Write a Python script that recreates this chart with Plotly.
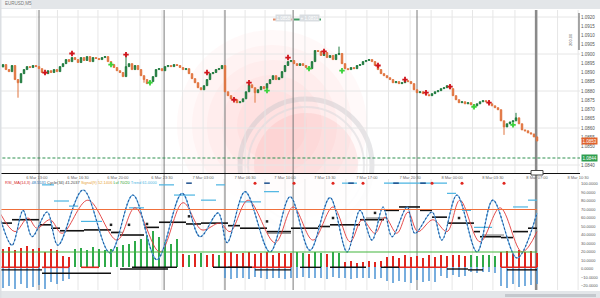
import plotly.graph_objects as go

W, H = 600, 298

# ---------------- price pane data (EURUSD) ----------------
closes = [
    1.08943, 1.08916, 1.08905, 1.08938, 1.08862, 1.08845, 1.08894, 1.08916, 1.08932, 1.08927,
    1.08938, 1.08932, 1.08921, 1.08900, 1.08894, 1.08910, 1.08900, 1.08916, 1.08905, 1.08932,
    1.08948, 1.08970, 1.08959, 1.08981, 1.08970, 1.08954, 1.08981, 1.08965, 1.08986, 1.08959,
    1.08981, 1.08976, 1.08970, 1.08981, 1.08986, 1.08959, 1.08943, 1.08927, 1.08910, 1.08900,
    1.08878, 1.08932, 1.08948, 1.08916, 1.08938, 1.08916, 1.08883, 1.08862, 1.08840, 1.08851,
    1.08878, 1.08916, 1.08921, 1.08910, 1.08932, 1.08938, 1.08932, 1.08943, 1.08938, 1.08927,
    1.08916, 1.08921, 1.08894, 1.08867, 1.08845, 1.08818, 1.08807, 1.08829, 1.08862, 1.08894,
    1.08900, 1.08916, 1.08921, 1.08938, 1.08796, 1.08775, 1.08758, 1.08753, 1.08737, 1.08742,
    1.08758, 1.08796, 1.08834, 1.08818, 1.08791, 1.08807, 1.08824, 1.08813, 1.08840, 1.08862,
    1.08883, 1.08862, 1.08872, 1.08905, 1.08938, 1.08959, 1.08965, 1.08948, 1.08938, 1.08948,
    1.08938, 1.08927, 1.08921, 1.08959, 1.09019, 1.09014, 1.08992, 1.09008, 1.08981, 1.08992,
    1.08970, 1.08997, 1.09003, 1.08948, 1.08921, 1.08916, 1.08927, 1.08921, 1.08938, 1.08943,
    1.08959, 1.08965, 1.08970, 1.08959, 1.08938, 1.08916, 1.08894, 1.08883, 1.08872, 1.08862,
    1.08845, 1.08851, 1.08840, 1.08845, 1.08856, 1.08851, 1.08840, 1.08807, 1.08791, 1.08796,
    1.08786, 1.08780, 1.08775, 1.08786, 1.08796, 1.08802, 1.08813, 1.08818, 1.08829, 1.08813,
    1.08775, 1.08753, 1.08737, 1.08742, 1.08731, 1.08737, 1.08726, 1.08720, 1.08731, 1.08742,
    1.08748, 1.08742, 1.08731, 1.08720, 1.08710, 1.08699, 1.08639, 1.08606, 1.08623, 1.08633,
    1.08639, 1.08655, 1.08623, 1.08590, 1.08585, 1.08574, 1.08568, 1.08552, 1.08530,
]
first_open = 1.08930
long_wick_high = {41: 1.08997, 112: 1.09040, 171: 1.08682, 149: 1.08824}
long_wick_low = {5: 1.08764, 84: 1.08737, 167: 1.08563, 47: 1.08845}

fractal_up_idx = [14, 23, 41, 68, 77, 82, 95, 107, 125, 134, 141, 149, 162]
fractal_up_val = [1.08900, 1.09003, 1.08997, 1.08900, 1.08753, 1.08845, 1.08981,
                  1.09014, 1.08938, 1.08862, 1.08791, 1.08824, 1.08737]
fractal_dn_idx = [36, 49, 88, 102, 113, 157, 170]
fractal_dn_val = [1.08943, 1.08845, 1.08802, 1.08921, 1.08910, 1.08715, 1.08617]

stop_level = 1.08438
# 1.0845 sits under the green stop-level box in the reference, so it is not listed
price_ticks = [1.0840, 1.0850, 1.0855, 1.0860, 1.0865, 1.0870, 1.0875, 1.0880,
               1.0885, 1.0890, 1.0895, 1.0900, 1.0905, 1.0910, 1.0915, 1.0920]
price_grid = [1.0840, 1.0860, 1.0880, 1.0900, 1.0920]
time_tick_pos = [11.3, 25, 38.3, 53, 66.7, 80.7, 94, 107.3, 121.3, 135.7, 149.7, 163.3, 178, 191.7]
time_tick_txt = ["6 Mar 13:00", "6 Mar 16:30", "6 Mar 20:00", "6 Mar 23:30", "7 Mar 03:00",
                 "7 Mar 06:30", "7 Mar 10:00", "7 Mar 13:30", "7 Mar 17:00", "7 Mar 20:30",
                 "8 Mar 00:00", "8 Mar 03:30", "8 Mar 07:00", "8 Mar 10:30"]
separators = [12, 53.7, 74, 96.7, 138]
current_bar = 177.7

# ---------------- oscillator pane data ----------------
fast_x = [-1, 3, 6.7, 9.7, 14.7, 18.3, 26.7, 35.7, 43.3, 51.3, 59.7, 65.7, 71.7, 74.7, 80.7, 89,
          95.7, 102.3, 109, 114.7, 119, 123, 126.7, 129.7, 134.7, 137.3, 143, 146.3, 151.3, 158,
          163.3, 171.3, 178]
fast_v = [61, 28, 69, 38, 67, 28, 93, 19, 87, 11, 89, 38, 66, 31, 91, 20,
          85, 22, 84, 20, 69, 34, 73, 38, 73, 42, 67, 34, 87, 20,
          81, 13, 66]
slow_x = [-1, 4, 8.3, 11.3, 15.7, 19.7, 28.3, 38, 44, 52.3, 60, 66.3, 72.3, 75.7, 81.7, 90.7,
          96.7, 103.3, 110, 115.7, 119.7, 124, 127.3, 131.3, 135, 138.3, 143.3, 148, 152.3, 159,
          165.7, 173, 178]
slow_v = [66, 44, 60, 48, 58, 42, 81, 34, 72, 20, 78, 46, 54, 44, 81, 31,
          73, 34, 73, 32, 58, 42, 61, 42, 67, 44, 58, 44, 81, 32,
          72, 20, 44]
# step lines: (start, end, level)
trend_steps = [(-1, 3, 54), (3, 12, 58), (12, 16, 52), (16, 19, 48), (19, 27, 45), (27, 36, 46),
               (36, 39, 43), (39, 47, 40), (47, 52, 49), (52, 61, 55), (61, 66, 53), (66, 75, 54),
               (75, 79, 51), (79, 88, 48), (88, 96, 44), (96, 105, 48), (105, 109, 50),
               (109, 119, 52), (119, 127, 58), (127, 132, 69), (132, 139, 73), (139, 143, 69),
               (143, 148, 61), (148, 157, 54), (157, 159, 44), (159, 166, 38), (166, 170, 37),
               (170, 175, 44), (175, 178, 48)]
gray_steps = [(36, 40, 43), (88, 96, 42), (121, 128, 60), (160, 167, 40)]
cyan_steps = [(13, 17, 99), (17, 22, 80), (22, 25, 74), (26, 33, 56), (42, 47, 72), (52, 57, 99),
              (57, 64, 87), (66, 71, 81), (71, 74, 99), (79, 86, 79), (87, 92, 91),
              (113, 118, 101), (127, 148, 101), (148, 151, 89), (153, 156, 69), (157, 163, 49),
              (170, 175, 73), (175, 178, 81)]
trend_dot_idx = [36, 42, 48, 62, 88, 110, 124, 152]
trend_dot_val = [52, 52, 53, 62, 56, 60, 66, 60]
signal_red_idx = [84, 97, 110, 120, 143, 153, 167]
signal_blue_idx = [62, 88, 116, 131, 140]
level_high = 70
level_low = 20

hist_base = 2
hist_col = ("rrrrrrrrrrrr" "gggggggggggggggggg" "rgrgrrg" "rrrrrrrrrrrr" "ggrggrgg"
            "rrrrrrr" "rrrrrrrrr" "rrrrr" "ggggg" "rrrrrrr")
hist_top = [24, 26, 22, 25, 27, 23, 25, 20, 24, 22, 15, 14,
            24, 25, 22, 26, 24, 22, 24, 26, 28, 30, 33, 35, 40, 45, 38, 32, 30, 35,
            18, 17, 18, 19, 16, 18, 17,
            19, 20, 18, 19, 20, 18, 19, 20, 17, 19, 18, 19,
            20, 19, 18, 20, 19, 18, 20, 19,
            8, 9, 7, 8, 9, 8, 9,
            14, 15, 13, 16, 14, 15, 13, 16, 14,
            16, 15, 17, 16, 15,
            16, 15, 17, 16, 15,
            20, 21, 19, 22, 20, 21, 19]
hist_bot = [-22, -20, -24, -18, -22, -21, -19, -23, -15, -18, -14, -12,
            None, None, None, None, None, None, None, None, None, None, None, None, None,
            None, None, None, None, None,
            None, None, None, None, None, None, None,
            -10, -12, -11, -10, -12, -9, -11, -12, -10, -11, -12, -10,
            -10, -9, -11, -10, -10, -12, -9, -10,
            -10, -12, -10, -11, -10, -12, -10,
            -14, -16, -14, -15, -16, -13, -15, -14, -15,
            -8, -10, -7, -9, -8,
            -4, -5, -3, -4, -5,
            -20, -22, -18, -21, -20, -19, -18]
hist_red_line = [(-1, 12), (13, 22), (26, 32), (75, 96), (127, 148), (166, 178)]
hist_black_steps = [(-1, 13, -1), (13, 36, -5), (43, 58, 2), (70, 83, 2), (39, 55, 0),
                    (84, 96, -1), (99, 106, 2), (109, 121, 2), (126, 132, 2), (148, 155, 0),
                    (155, 160, -1), (168, 178, -1)]
osc_ticks = [100, 90, 80, 70, 60, 50, 40, 30, 20, 10, 0, -10, -20]

# ---------------- helpers ----------------
def px(x):
    return x / W


def py(y):
    return 1 - y / H


def steps_xy(steps):
    xs, ys = [], []
    for a, b, v in steps:
        xs += [a, b, None]
        ys += [v, v, None]
    return xs, ys


n = len(closes)
idx = list(range(n))
opens = [first_open] + closes[:-1]
highs = [max(o, c, long_wick_high.get(i, 0)) for i, (o, c) in enumerate(zip(opens, closes))]
lows = [min(o, c, long_wick_low.get(i, 9)) for i, (o, c) in enumerate(zip(opens, closes))]

XMAX = 192.33
X_DOM = [0, 580 / W]
Y1_DOM = [py(173), py(10)]
Y2_DOM = [py(290), py(179)]
FONT = "Liberation Sans"

fig = go.Figure()

fig.add_trace(go.Candlestick(
    x=idx, open=opens, high=highs, low=lows, close=closes,
    increasing=dict(line=dict(color="#1f7a3e", width=1), fillcolor="#1f7a3e"),
    decreasing=dict(line=dict(color="#e0743f", width=1), fillcolor="#e0743f"),
    whiskerwidth=0, showlegend=False, hoverinfo="skip", xaxis="x", yaxis="y"))

fig.add_trace(go.Scatter(x=fractal_up_idx, y=fractal_up_val, mode="markers",
                         marker=dict(symbol="cross", size=4.5, color="#d0141c"),
                         showlegend=False, xaxis="x", yaxis="y"))
fig.add_trace(go.Scatter(x=fractal_dn_idx, y=fractal_dn_val, mode="markers",
                         marker=dict(symbol="cross", size=4.5, color="#3ad23a"),
                         showlegend=False, xaxis="x", yaxis="y"))

# oscillator histogram
up_col = {"r": "#e0261f", "g": "#2eaa49"}
hidx = [2 * k for k in range(len(hist_top))]
fig.add_trace(go.Bar(x=hidx, y=[t - hist_base for t in hist_top], base=hist_base,
                     width=0.45, marker=dict(color=[up_col[c] for c in hist_col], line_width=0),
                     showlegend=False, xaxis="x2", yaxis="y2"))
fig.add_trace(go.Bar(x=hidx, y=[(b - hist_base) if b is not None else 0 for b in hist_bot],
                     base=hist_base, width=0.5,
                     marker=dict(color="#4b93d3", line_width=0, opacity=0.75),
                     showlegend=False, xaxis="x2", yaxis="y2"))
rx, ry = [], []
for a, b in hist_red_line:
    rx += [a, b, None]
    ry += [hist_base, hist_base, None]
fig.add_trace(go.Scatter(x=rx, y=ry, mode="lines", line=dict(color="#e0261f", width=1.6),
                         showlegend=False, xaxis="x2", yaxis="y2"))
bx, by = steps_xy(hist_black_steps)
fig.add_trace(go.Scatter(x=bx, y=by, mode="lines", line=dict(color="#111", width=1.4),
                         showlegend=False, xaxis="x2", yaxis="y2"))

# oscillator lines
gx, gy = steps_xy(gray_steps)
fig.add_trace(go.Scatter(x=gx, y=gy, mode="lines", line=dict(color="#9a9a9a", width=1.4),
                         showlegend=False, xaxis="x2", yaxis="y2"))
tx, ty = steps_xy(trend_steps)
fig.add_trace(go.Scatter(x=tx, y=ty, mode="lines", line=dict(color="#111", width=1.6),
                         showlegend=False, xaxis="x2", yaxis="y2"))
fig.add_trace(go.Scatter(x=trend_dot_idx, y=trend_dot_val, mode="markers",
                         marker=dict(symbol="square", size=2.5, color="#222"),
                         showlegend=False, xaxis="x2", yaxis="y2"))
cx, cy = steps_xy(cyan_steps)
fig.add_trace(go.Scatter(x=cx, y=cy, mode="lines", line=dict(color="#4ab4e2", width=1.2),
                         showlegend=False, xaxis="x2", yaxis="y2"))
fig.add_trace(go.Scatter(x=slow_x, y=slow_v, mode="lines",
                         line=dict(color="#e23a3a", width=0.9, shape="spline", smoothing=1.0),
                         showlegend=False, xaxis="x2", yaxis="y2"))
fig.add_trace(go.Scatter(x=fast_x, y=fast_v, mode="lines",
                         line=dict(color="#62aee6", width=1.1, shape="spline", smoothing=1.0),
                         showlegend=False, xaxis="x2", yaxis="y2"))
fig.add_trace(go.Scatter(x=fast_x, y=fast_v, mode="lines",
                         line=dict(color="#24589a", width=1.1, shape="spline", smoothing=1.0,
                                   dash="2px,2px"),
                         showlegend=False, xaxis="x2", yaxis="y2"))
fig.add_trace(go.Scatter(x=signal_red_idx, y=[101] * len(signal_red_idx), mode="markers",
                         marker=dict(symbol="circle", size=3, color="#e0261f"),
                         showlegend=False, xaxis="x2", yaxis="y2"))
fig.add_trace(go.Scatter(x=signal_blue_idx, y=[101] * len(signal_blue_idx), mode="markers",
                         marker=dict(symbol="line-ew", size=4, line=dict(color="#1d4f8c", width=1.5)),
                         showlegend=False, xaxis="x2", yaxis="y2"))

shapes = []
# watermark glow
cxp, cyp = 272, 125
for r in [95, 80, 65, 50, 35]:
    shapes.append(dict(type="circle", xref="paper", yref="paper", layer="below",
                       x0=px(cxp - r), x1=px(cxp + r), y0=py(cyp + r), y1=py(cyp - r),
                       fillcolor="rgba(250,90,90,0.035)", line_width=0))
# watermark logo
lx, ly = 306, 165
shapes.append(dict(type="circle", xref="paper", yref="paper", layer="below",
                   x0=px(lx - 52), x1=px(lx + 52), y0=py(ly + 52), y1=py(ly - 52),
                   fillcolor="rgba(236,100,100,0.10)", line_width=0))
shapes.append(dict(type="circle", xref="paper", yref="paper", layer="below",
                   x0=px(lx - 66), x1=px(lx + 66), y0=py(ly + 66), y1=py(ly - 66),
                   line=dict(color="rgba(200,200,205,0.45)", width=5)))
shapes.append(dict(type="circle", xref="paper", yref="paper", layer="below",
                   x0=px(lx - 58), x1=px(lx + 58), y0=py(ly + 58), y1=py(ly - 58),
                   line=dict(color="rgba(215,215,220,0.5)", width=2)))
# veil over oscillator pane
shapes.append(dict(type="rect", xref="paper", yref="paper", layer="below",
                   x0=0, x1=1, y0=py(291), y1=py(173.5),
                   fillcolor="rgba(255,255,255,0.9)", line_width=0))
# vertical grid
grid_x = []
for a, b in zip(time_tick_pos[:-1], time_tick_pos[1:]):
    grid_x += [a, (a + b) / 2]
grid_x.append(time_tick_pos[-1])
for gxv in grid_x:
    for y0, y1 in [(173, 10), (290, 179)]:
        shapes.append(dict(type="line", xref="x", yref="paper", layer="below",
                           x0=gxv, x1=gxv, y0=py(y0), y1=py(y1),
                           line=dict(color="#e6e6e6", width=1)))
for gp in price_grid:
    shapes.append(dict(type="line", xref="paper", yref="y", layer="below",
                       x0=0, x1=X_DOM[1], y0=gp, y1=gp, line=dict(color="#e6e6e6", width=1)))
# separators
for s in separators:
    shapes.append(dict(type="line", xref="x", yref="paper", layer="below",
                       x0=s, x1=s, y0=py(290), y1=py(10), line=dict(color="#7a7a7a", width=1)))
shapes.append(dict(type="line", xref="x", yref="paper", layer="below",
                   x0=current_bar, x1=current_bar, y0=py(290), y1=py(10),
                   line=dict(color="#8a8a8a", width=2.5)))
# stop level dashed
shapes.append(dict(type="line", xref="paper", yref="y", x0=0.004, x1=X_DOM[1],
                   y0=stop_level, y1=stop_level, line=dict(color="#2e9150", width=1, dash="3px,2px")))
# oscillator levels
for lv, col in [(level_high, "#f0703c"), (level_low, "#43b53c")]:
    shapes.append(dict(type="line", xref="x2", yref="y2", x0=-1, x1=178, y0=lv, y1=lv,
                       line=dict(color=col, width=1.2)))
# frame strips
shapes.append(dict(type="rect", xref="paper", yref="paper", x0=0, x1=1, y0=py(9), y1=1,
                   fillcolor="#e3e6e9", line_width=0))
shapes.append(dict(type="rect", xref="paper", yref="paper", x0=0, x1=px(31), y0=py(8), y1=1,
                   fillcolor="#f2f3f4", line_width=0))
shapes.append(dict(type="rect", xref="paper", yref="paper", x0=0, x1=1, y0=0, y1=py(291),
                   fillcolor="#e3e6e9", line_width=0))
shapes.append(dict(type="rect", xref="paper", yref="paper", x0=px(505), x1=px(596),
                   y0=py(297), y1=py(294), fillcolor="#c4c8cd", line_width=0))
shapes.append(dict(type="rect", xref="paper", yref="paper", x0=0, x1=px(1.5), y0=0, y1=1,
                   fillcolor="#dcdfe3", line_width=0))
# right scale marker
shapes.append(dict(type="line", xref="paper", yref="paper", x0=px(579), x1=px(579),
                   y0=py(50), y1=py(13), line=dict(color="#555", width=1)))
# top legend underlines
shapes.append(dict(type="line", xref="paper", yref="paper", x0=px(273), x1=px(292),
                   y0=py(19.5), y1=py(19.5), line=dict(color="#e08a68", width=2)))
shapes.append(dict(type="line", xref="paper", yref="paper", x0=px(294), x1=px(321),
                   y0=py(19.5), y1=py(19.5), line=dict(color="#3f9a63", width=2)))
# current time marker on axis
shapes.append(dict(type="rect", xref="paper", yref="paper", x0=px(531), x1=px(543),
                   y0=py(175), y1=py(170.5), fillcolor="#ffffff", line=dict(color="#444", width=1)))

annotations = [
    dict(text="EURUSD,M5", x=px(3), y=py(4), xref="paper", yref="paper", showarrow=False,
         xanchor="left", yanchor="middle", font=dict(size=4.5, color="#777", family=FONT)),
    dict(text="1.0858", x=px(283), y=py(14.5), xref="paper", yref="paper", showarrow=False,
         bgcolor="#d9dde1", borderpad=0.5, font=dict(size=4.5, color="#ffffff", family=FONT)),
    dict(text="+ 1.0831", x=px(309), y=py(14.5), xref="paper", yref="paper", showarrow=False,
         bgcolor="#d9dde1", borderpad=0.5, font=dict(size=4.5, color="#ffffff", family=FONT)),
    dict(text="200.00", x=px(575), y=py(31), xref="paper", yref="paper", showarrow=False,
         textangle=-90, font=dict(size=4, color="#666", family=FONT)),
    dict(text="1.0853", x=px(581), y=closes[-1], xref="paper", yref="y", showarrow=False,
         xanchor="left", bgcolor="#e0622d", borderpad=0.5,
         font=dict(size=4.5, color="#ffffff", family=FONT)),
    dict(text="1.0844", x=px(581), y=stop_level, xref="paper", yref="y", showarrow=False,
         xanchor="left", bgcolor="#2e9e4f", borderpad=0.5,
         font=dict(size=4.5, color="#ffffff", family=FONT)),
    dict(text=('<span style="color:#d62728">RSI_MA(14,3)</span> '
               '<span style="color:#1f6fb5">48.5531</span> '
               '<span style="color:#444">Cycle(34) 41.2037</span> '
               '<span style="color:#e8a43a">Signal(9) 52.1406</span> '
               '<span style="color:#2ca02c">Lvl 70/20</span> '
               '<span style="color:#4ab4e2">Trend 61.0000</span>'),
         x=px(3), y=py(183), xref="paper", yref="paper", showarrow=False,
         xanchor="left", yanchor="middle", font=dict(size=4, color="#444", family=FONT)),
]

fig.update_layout(
    width=W, height=H, margin=dict(l=0, r=0, t=0, b=0, autoexpand=False),
    paper_bgcolor="#ffffff", plot_bgcolor="rgba(0,0,0,0)",
    showlegend=False, bargap=0, barmode="overlay",
    shapes=shapes, annotations=annotations,
    xaxis=dict(domain=X_DOM, range=[-1, XMAX], anchor="y", showgrid=False, zeroline=False,
               tickvals=time_tick_pos, ticktext=time_tick_txt, ticks="", automargin=False,
               tickfont=dict(size=4, color="#666", family=FONT),
               showline=True, linecolor="#111", linewidth=1.2,
               rangeslider=dict(visible=False), fixedrange=True),
    yaxis=dict(domain=Y1_DOM, range=[1.08357, 1.09238], side="right", anchor="x",
               showgrid=False, zeroline=False, tickvals=price_ticks, tickformat=".4f",
               ticks="", automargin=False,
               tickfont=dict(size=4.5, color="#555", family=FONT), showline=False),
    xaxis2=dict(domain=X_DOM, range=[-1, XMAX], anchor="y2", matches="x", automargin=False,
                showgrid=False, zeroline=False, showticklabels=False, showline=False),
    yaxis2=dict(domain=Y2_DOM, range=[-24.7, 105.9], side="right", anchor="x2",
                showgrid=False, zeroline=False, tickvals=osc_ticks, tickformat=".4f",
                ticks="", automargin=False,
                tickfont=dict(size=4, color="#555", family=FONT), showline=False),
)

fig.write_html("out.html")
